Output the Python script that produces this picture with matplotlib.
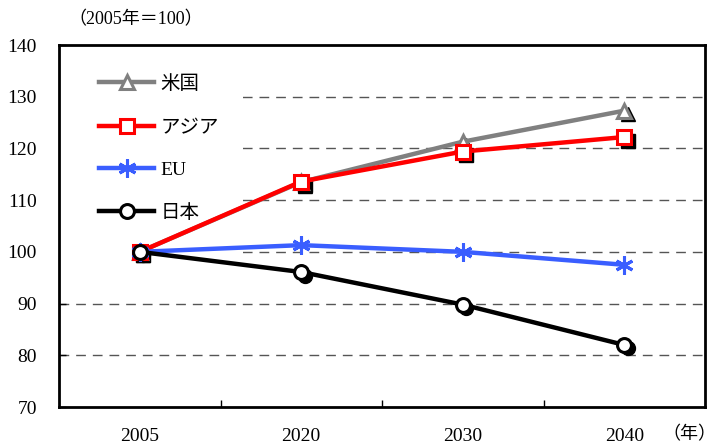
import matplotlib
matplotlib.use("Agg")
import matplotlib.pyplot as plt
from matplotlib.transforms import ScaledTranslation
from matplotlib.patches import Rectangle

years = ["2005", "2020", "2030", "2040"]
usa = [100, 113.5, 121.3, 127.3]
asia = [100, 113.6, 119.4, 122.2]
eu = [100, 101.3, 100.0, 97.5]
japan = [100, 96.1, 89.8, 82.0]
labels = ["米国", "アジア", "EU", "日本"]
yticks = [70, 80, 90, 100, 110, 120, 130, 140]

SERIF = ["Liberation Serif", "Noto Sans CJK JP"]
plt.rcParams["font.family"] = SERIF

fig = plt.figure(figsize=(7.18, 4.45), dpi=100)
ax = fig.add_axes([59 / 718, 1 - 407 / 445, 646 / 718, 362 / 445])

x = list(range(len(years)))
ax.set_xlim(-0.5, len(years) - 0.5)
ax.set_ylim(70, 140)

# dashed horizontal reference lines
for v in yticks[1:-1]:
    ax.axhline(v, color="#555555", lw=1.0, ls=(0, (7, 5)), zorder=1)

# white panel behind the legend
ax.add_patch(Rectangle((0, 0.36), 0.285, 0.62, transform=ax.transAxes,
                       facecolor="white", edgecolor="none", zorder=2))

series = [
    (usa, "#808080", "^", 10, True),
    (asia, "#ff0000", "s", 10, True),
    (eu, "#3a5eff", (6, 2, 0), 13, False),
    (japan, "#000000", "o", 10, True),
]

shadow = ax.transData + ScaledTranslation(3.5 / 100, -3.5 / 100, fig.dpi_scale_trans)
handles = []
for (vals, col, mk, ms, shade), lab in zip(series, labels):
    if shade:
        ax.plot(x, vals, ls="none", marker=mk, ms=ms, color="black",
                mec="black", transform=shadow, zorder=3)
for i, ((vals, col, mk, ms, shade), lab) in enumerate(zip(series, labels)):
    if mk == (6, 2, 0):
        h, = ax.plot(x, vals, color=col, lw=3.2, marker=mk, ms=ms, mec=col,
                     mew=2.2, zorder=4 + i, label=lab)
    else:
        h, = ax.plot(x, vals, color=col, lw=3.2, marker=mk, ms=ms, mfc="white",
                     mec=col, mew=2.2, zorder=4 + i, label=lab)
    handles.append(h)

leg = ax.legend(handles=handles, loc="upper left", bbox_to_anchor=(0.05, 0.945),
                frameon=False, fontsize=14, handlelength=2.85, handletextpad=0.3,
                labelspacing=1.2, borderaxespad=0)
for t in leg.get_texts():
    t.set_family(["Noto Sans CJK JP"] if t.get_text() != "EU" else SERIF)
leg.set_zorder(10)

# axes styling
for s in ax.spines.values():
    s.set_linewidth(2)
ax.set_yticks(yticks)
ax.set_yticklabels([str(v) for v in yticks], fontsize=14)
ax.tick_params(axis="y", direction="in", length=5, width=1, pad=16)
ax.set_xticks(x)
ax.set_xticklabels(years, fontsize=14)
ax.tick_params(axis="x", which="major", length=0, pad=15)
ax.set_xticks([0.5, 1.5, 2.5], minor=True)
ax.tick_params(axis="x", which="minor", direction="in", length=5, width=1)

fig.text(68 / 718, 1 - 20 / 445, "（2005年＝100）", fontsize=13,
         family=SERIF, va="center", ha="left")
fig.text(716 / 718, 1 - 435 / 445, "（年）", fontsize=13,
         family=SERIF, va="center", ha="right")

fig.savefig("out.png", dpi=100)
